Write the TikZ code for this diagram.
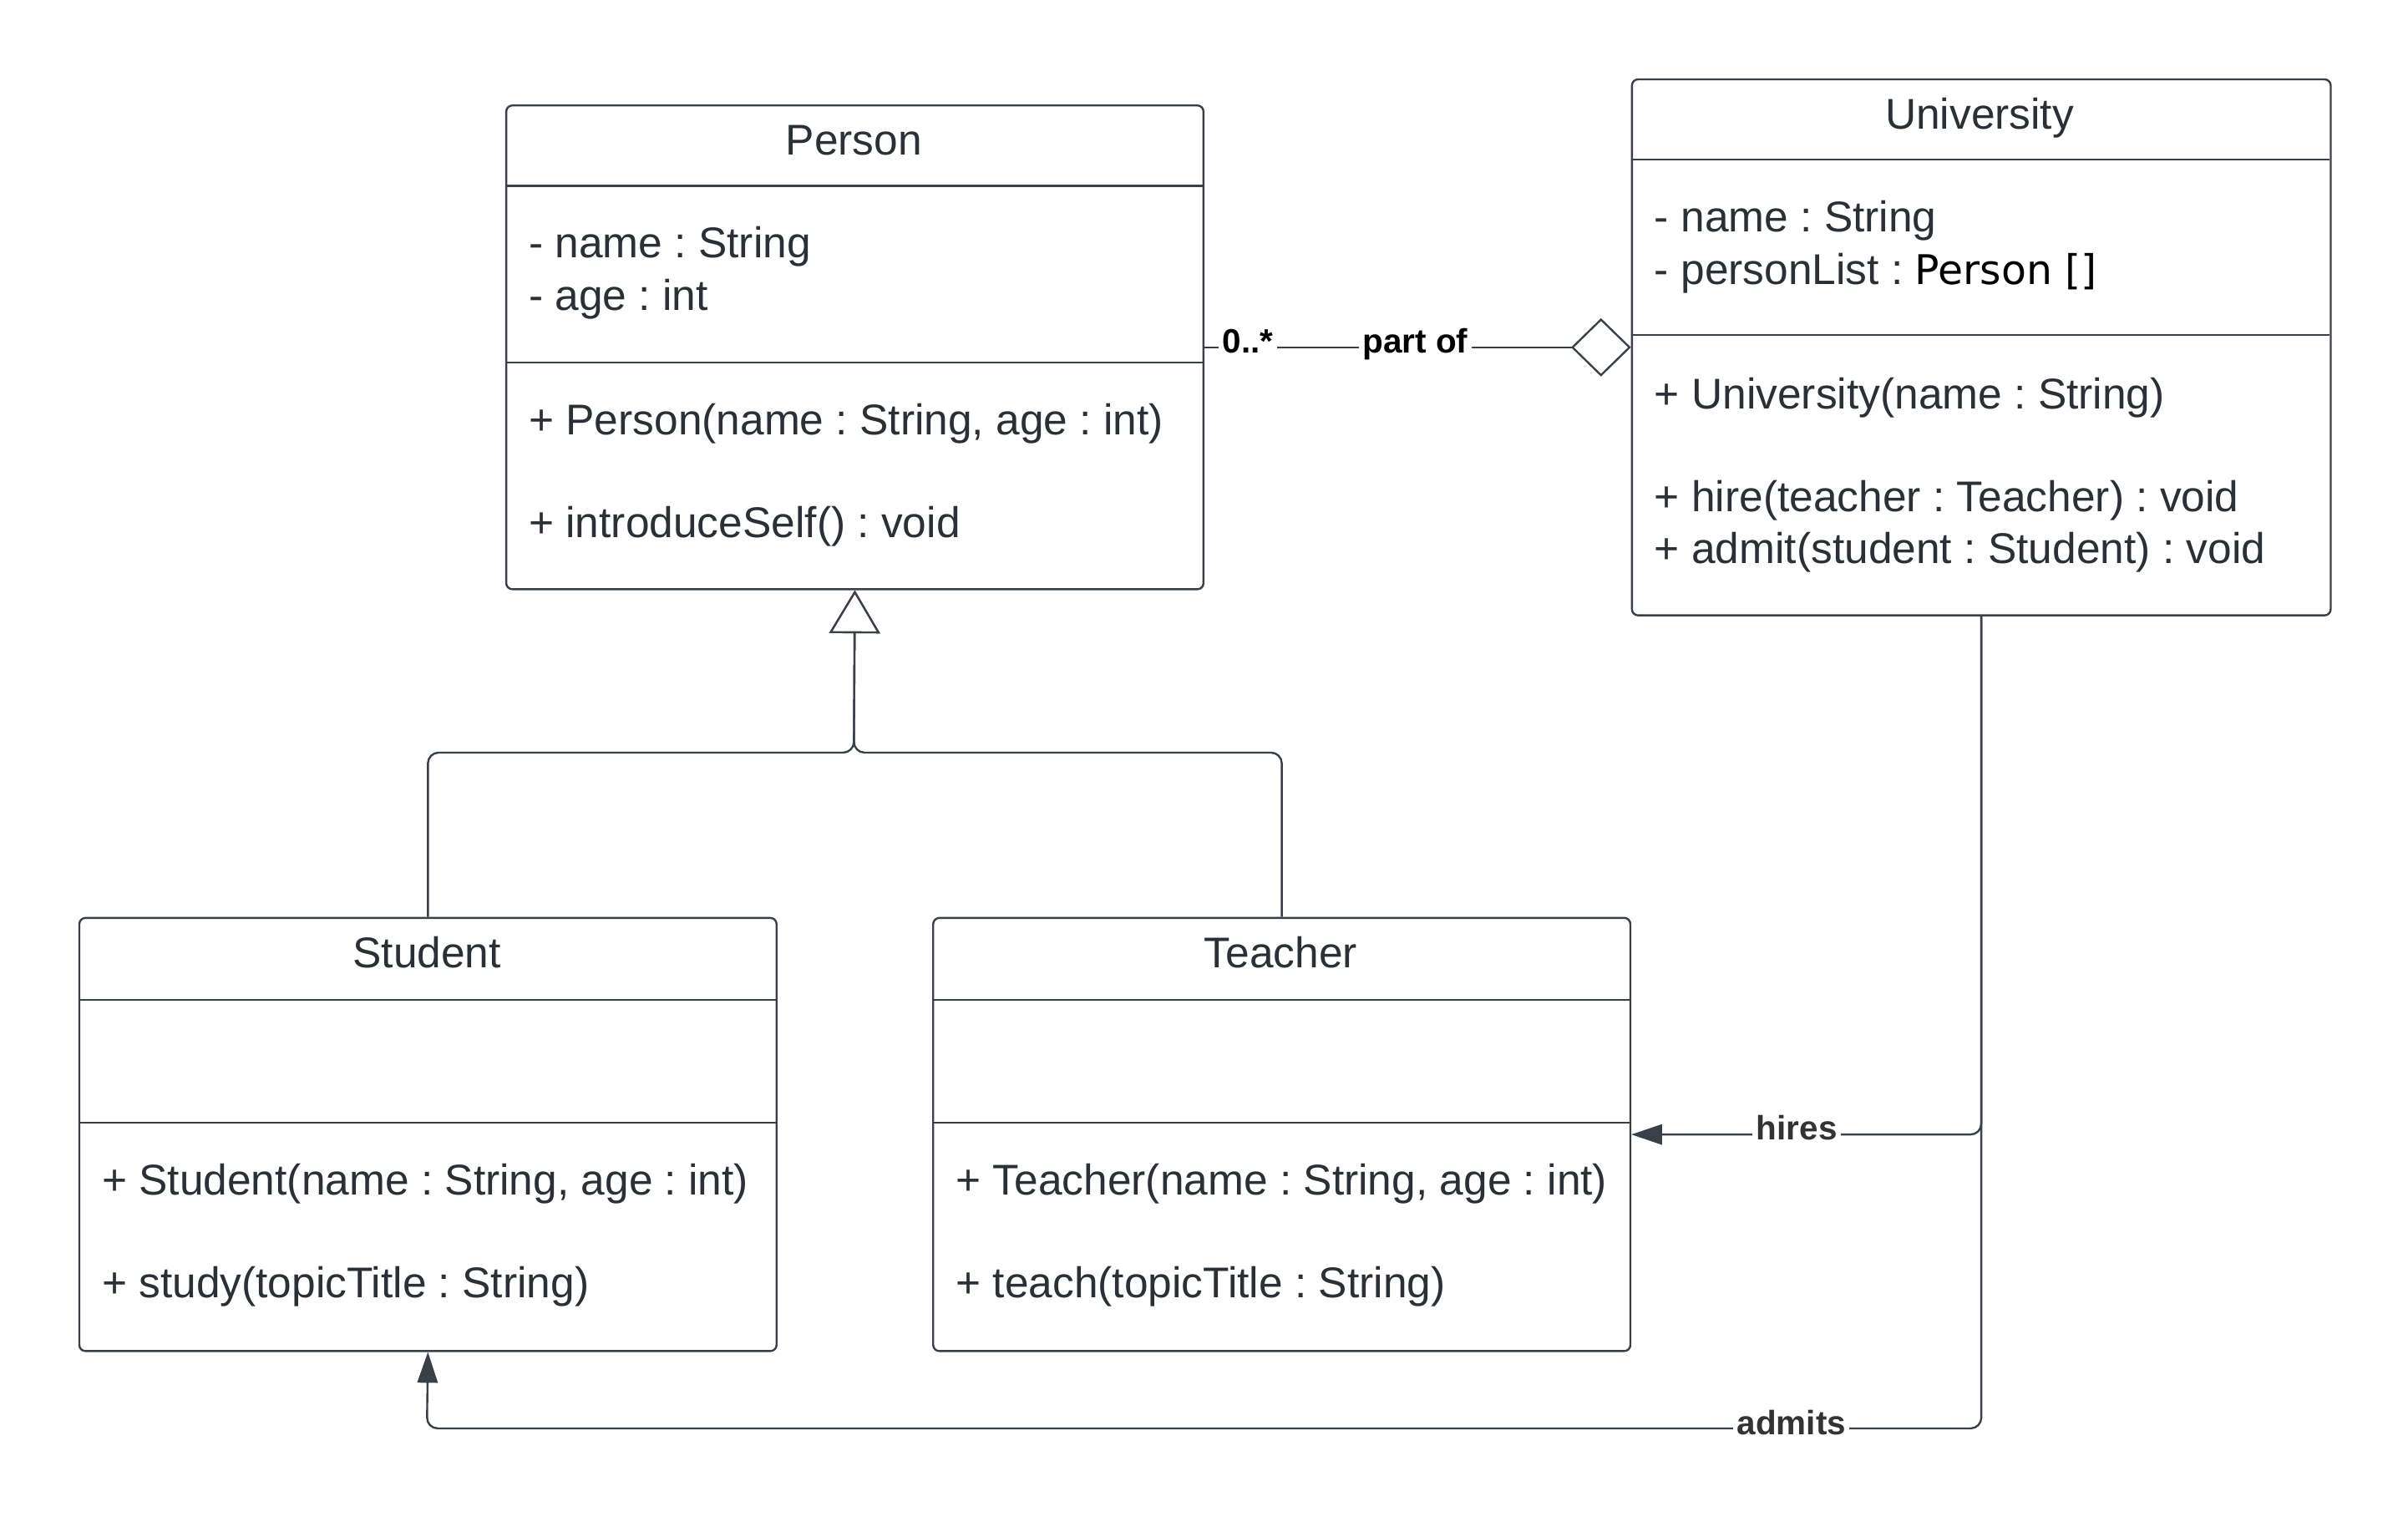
\documentclass[tikz,border=0pt]{standalone}
\usepackage{fontspec}
\setmainfont{Liberation Sans}
\newfontfamily\dejavusans{DejaVu Sans}
\usetikzlibrary{arrows.meta}
\definecolor{boxline}{HTML}{3A4049}
\definecolor{txt}{HTML}{2B2F36}
\definecolor{lbltxt}{HTML}{333333}
\begin{document}
\frenchspacing
\begin{tikzpicture}[x=0.5pt,y=-0.5pt,
  umlbox/.style={draw=boxline, line width=0.65pt, rounded corners=2pt, anchor=north west, inner sep=0pt, fill=white},
  sepline/.style={draw=boxline, line width=0.65pt},
  ttl/.style={anchor=base, inner sep=0pt, text=txt, font=\fontsize{14pt}{17pt}\selectfont},
  mem/.style={anchor=base west, inner sep=0pt, text=txt, font=\fontsize{14pt}{17pt}\selectfont},
  lbl/.style={anchor=base, inner sep=1.2pt, fill=white, font=\bfseries\fontsize{11pt}{13pt}\selectfont},
  conn/.style={draw=boxline, line width=0.65pt, rounded corners=3.5pt},
]
\fill[white] (0,0) rectangle (1568,997);
\useasboundingbox (0,0) rectangle (1568,997);

% ---- boxes
\node[umlbox, minimum width=227pt, minimum height=157.5pt] (person) at (329,68) {};
\node[umlbox, minimum width=227.5pt, minimum height=174.5pt] (univ) at (1062,51) {};
\node[umlbox, minimum width=227pt, minimum height=141pt] (student) at (51,597) {};
\node[umlbox, minimum width=227pt, minimum height=141pt] (teacher) at (607,597) {};

% separators
\draw[sepline] (329,121) -- (783,121);
\draw[sepline] (329,236) -- (783,236);
\draw[sepline] (1062,104) -- (1517,104);
\draw[sepline] (1062,218) -- (1517,218);
\draw[sepline] (51,651) -- (505,651);
\draw[sepline] (51,731) -- (505,731);
\draw[sepline] (607,651) -- (1061,651);
\draw[sepline] (607,731) -- (1061,731);

% ---- Person texts
\node[ttl] (pt) at (556,101) {Person};
\node[mem] (pa1) at (344,168) {- name : String};
\node[mem] (pa2) at (344,202) {- age : int};
\node[mem] (pm1) at (344,283) {+ Person(name : String, age : int)};
\node[mem] (pm2) at (344,350) {+ introduceSelf() : void};

% ---- University texts
\node[ttl] (ut) at (1289,84) {University};
\node[mem] (ua1) at (1077,151) {- name : String};
\node[mem] (ua2) at (1077,185) {- personList : {\dejavusans\color{black}\fontsize{13.3pt}{17pt}\selectfont Person []}};
\node[mem] (um1) at (1077,266) {+ University(name : String)};
\node[mem] (um2) at (1077,333) {+ hire(teacher : Teacher) : void};
\node[mem] (um3) at (1077,367) {+ admit(student : Student) : void};

% ---- Student texts
\node[ttl] (st) at (278,630) {Student};
\node[mem] (sm1) at (66,778) {+ Student(name : String, age : int)};
\node[mem] (sm2) at (66,845) {+ study(topicTitle : String)};

% ---- Teacher texts
\node[ttl] (tt) at (834,630) {Teacher};
\node[mem] (tm1) at (622,778) {+ Teacher(name : String, age : int)};
\node[mem] (tm2) at (622,845) {+ teach(topicTitle : String)};

% ---- connectors
\coordinate (junc) at (556,490);
\draw[conn, -{Triangle[open, length=14pt, width=16.5pt, fill=white]}] (student.north) |- (junc) -- (person.south);
\draw[conn, -{Triangle[open, length=14pt, width=16.5pt, fill=white]}] (teacher.north) |- (junc) -- (person.south);

\draw[conn, -{Diamond[open, length=19.5pt, width=19pt, fill=white]}] (person.east) -- (univ.west);
\node[lbl, text=black] (mult) at (812.5,230) {0..*};
\node[lbl, text=black] (partof) at (921.5,230) {part of};

\draw[conn, -{Triangle[length=10pt, width=6.6pt]}] (univ.south) |- (teacher.east);
\node[lbl, text=lbltxt] (hires) at (1170,742) {hires};

\coordinate (abot) at (278,930);
\draw[conn, -{Triangle[length=10pt, width=6.6pt]}] (univ.south) |- (abot) -- (student.south);
\node[lbl, text=lbltxt] (admits) at (1166.5,934) {admits};
\end{tikzpicture}
\end{document}
